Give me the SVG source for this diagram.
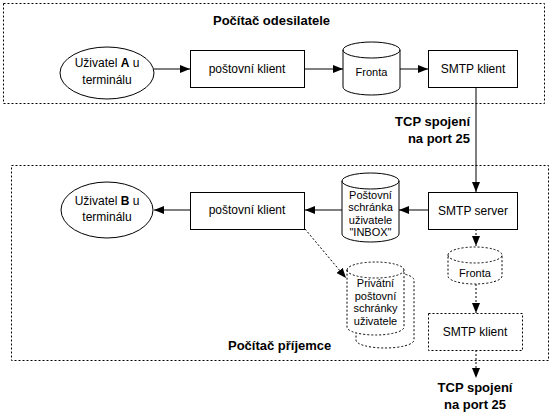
<svg xmlns="http://www.w3.org/2000/svg" width="553" height="417" viewBox="0 0 553 417">
<style>
text{font-family:"Liberation Sans",Arial,sans-serif;fill:#000}
.t{font-size:12px;text-anchor:middle}
.s{font-size:11px;text-anchor:middle}
.b{font-size:13px;font-weight:bold}
.shape{fill:#fff;stroke:#000;stroke-width:1}
.dash{stroke-dasharray:2,2}
.frame{fill:none;stroke:#000;stroke-width:1;stroke-dasharray:2,2}
.ln{fill:none;stroke:#000;stroke-width:1}
</style>
<defs>
<marker id="ah" markerWidth="10" markerHeight="8" refX="10" refY="4" orient="auto" markerUnits="userSpaceOnUse">
<path d="M0,0 L10,4 L0,8 Z" fill="#000"/>
</marker>
</defs>
<rect class="frame" x="3.5" y="3.5" width="541" height="100"/>
<rect class="frame" x="11.5" y="165.5" width="537" height="195"/>
<text class="b" x="213" y="25">Počítač odesilatele</text>
<text class="b" x="228" y="350">Počítač příjemce</text>
<g id="connectors">
<line class="ln" x1="154" y1="69" x2="190" y2="69" marker-end="url(#ah)"/>
<line class="ln" x1="305" y1="69" x2="343" y2="69" marker-end="url(#ah)"/>
<line class="ln" x1="400" y1="69" x2="428" y2="69" marker-end="url(#ah)"/>
<line class="ln" x1="476" y1="87" x2="476" y2="192" marker-end="url(#ah)"/>
<line class="ln" x1="428" y1="210" x2="399" y2="210" marker-end="url(#ah)"/>
<line class="ln" x1="342" y1="210" x2="305" y2="210" marker-end="url(#ah)"/>
<line class="ln" x1="190" y1="210" x2="154" y2="210" marker-end="url(#ah)"/>
<line class="ln dash" x1="476" y1="229" x2="476" y2="246" marker-end="url(#ah)"/>
<line class="ln dash" x1="476" y1="284" x2="476" y2="313" marker-end="url(#ah)"/>
<line class="ln dash" x1="476" y1="350" x2="476" y2="378" marker-end="url(#ah)"/>
<line class="ln dash" x1="305" y1="229" x2="346" y2="278" marker-end="url(#ah)"/>
</g>
<g id="userA">
<ellipse class="shape" cx="107" cy="73" rx="47" ry="26"/>
<text class="t" x="107" y="67">Uživatel <tspan font-weight="bold">A</tspan> u</text>
<text class="t" x="107" y="84">terminálu</text>
</g>
<g id="client1">
<rect class="shape" x="190.5" y="50.5" width="114" height="37"/>
<text class="t" x="247" y="73">poštovní klient</text>
</g>
<g id="fronta1">
<path class="shape" d="M343,50 A28.5,8 0 0 1 400,50 L400,87 A28.5,8 0 0 1 343,87 Z"/>
<path class="ln" d="M343,50 A28.5,8 0 0 0 400,50"/>
<text class="s" x="371.5" y="76">Fronta</text>
</g>
<g id="smtpklient1">
<rect class="shape" x="428.5" y="50.5" width="89" height="37"/>
<text class="t" x="473" y="73">SMTP klient</text>
</g>
<text class="b" x="470" y="126" text-anchor="end">TCP spojení</text>
<text class="b" x="470" y="143" text-anchor="end">na port 25</text>
<g id="userB">
<ellipse class="shape" cx="107" cy="210" rx="46" ry="28"/>
<text class="t" x="107" y="205">Uživatel <tspan font-weight="bold">B</tspan> u</text>
<text class="t" x="107" y="221">terminálu</text>
</g>
<g id="client2">
<rect class="shape" x="190.5" y="192.5" width="114" height="37"/>
<text class="t" x="247" y="214">poštovní klient</text>
</g>
<g id="inbox">
<path class="shape" d="M342,181 A28.5,8 0 0 1 399,181 L399,234 A28.5,8 0 0 1 342,234 Z"/>
<path class="ln" d="M342,181 A28.5,8 0 0 0 399,181"/>
<text class="s" x="370.5" y="199">Poštovní</text>
<text class="s" x="370.5" y="211">schránka</text>
<text class="s" x="370.5" y="224">uživatele</text>
<text class="s" x="370.5" y="236">"INBOX"</text>
</g>
<g id="smtpserver">
<rect class="shape" x="428.5" y="192.5" width="89" height="37"/>
<text class="t" x="473" y="215">SMTP server</text>
</g>
<g id="fronta2">
<path class="shape dash" d="M448,255 A27,8 0 0 1 502,255 L502,276 A27,8 0 0 1 448,276 Z"/>
<path class="ln dash" d="M448,255 A27,8 0 0 0 502,255"/>
<text class="s" x="475" y="277">Fronta</text>
</g>
<g id="smtpklient2">
<rect class="shape dash" x="428.5" y="313.5" width="94" height="37"/>
<text class="t" x="475" y="336">SMTP klient</text>
</g>
<g id="private">
<path class="shape dash" d="M356,280 A29,8 0 0 1 414,280 L414,340 A29,8 0 0 1 356,340 Z"/>
<path class="shape dash" d="M347,270 A28.5,8 0 0 1 404,270 L404,327 A28.5,8 0 0 1 347,327 Z"/>
<path class="ln dash" d="M347,270 A28.5,8 0 0 0 404,270"/>
<text class="s" x="375.5" y="287">Privátní</text>
<text class="s" x="375.5" y="300">poštovní</text>
<text class="s" x="375.5" y="312">schránky</text>
<text class="s" x="375.5" y="325">uživatele</text>
</g>
<text class="b" x="475" y="392" text-anchor="middle">TCP spojení</text>
<text class="b" x="475" y="409" text-anchor="middle">na port 25</text>
</svg>
